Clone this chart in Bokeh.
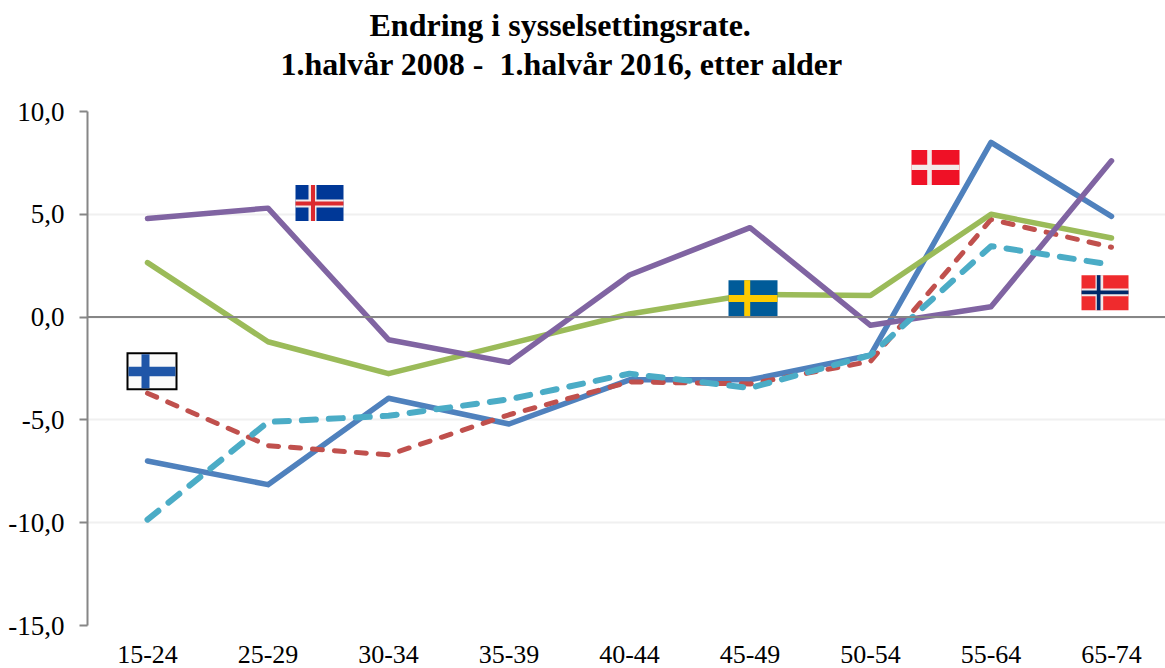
from bokeh.plotting import figure
from bokeh.embed import file_html
from bokeh.resources import INLINE
from bokeh.models import Range1d, FixedTicker, Span, Title

categories = ["15-24", "25-29", "30-34", "35-39", "40-44", "45-49", "50-54", "55-64", "65-74"]
denmark = [-7.0, -8.15, -3.95, -5.2, -3.05, -3.05, -1.85, 8.5, 4.9]
norway = [-3.7, -6.25, -6.7, -4.75, -3.15, -3.25, -2.15, 4.75, 3.4]
sweden = [2.65, -1.2, -2.75, -1.3, 0.15, 1.1, 1.05, 5.0, 3.85]
iceland = [4.8, 5.3, -1.1, -2.2, 2.05, 4.35, -0.4, 0.5, 7.6]
finland = [-9.85, -5.1, -4.8, -4.0, -2.75, -3.45, -1.85, 3.45, 2.55]
y_ticks = [-15, -10, -5, 0, 5, 10]
y_labels = ["-15,0", "-10,0", "-5,0", "0,0", "5,0", "10,0"]
title_lines = ["Endring i sysselsettingsrate.", "1.halvår 2008 -\u00a0 1.halvår 2016, etter alder"]

W, H = 1165, 668
L, T, B = 87, 111.5, 625.0
X0, DX = 147.0, 120.5

xs = list(range(len(categories)))
p = figure(width=W, height=H, output_backend="svg", toolbar_location=None,
           x_range=Range1d((L - X0) / DX, (W - X0) / DX), y_range=Range1d(-15, 10),
           min_border_left=L, min_border_right=0, min_border_top=int(T), min_border_bottom=int(H - B),
           outline_line_color=None, margin=(0, 0, 0, 0))

p.xaxis.ticker = FixedTicker(ticks=xs)
p.xaxis.major_label_overrides = {i: c for i, c in enumerate(categories)}
p.xaxis.axis_line_color = None
p.xaxis.major_tick_line_color = None
p.xaxis.minor_tick_line_color = None
p.xaxis.major_label_text_font = "Liberation Serif"
p.xaxis.major_label_text_font_size = "26px"
p.xaxis.major_label_text_color = "#000000"
p.xaxis.major_label_standoff = 14

p.yaxis.ticker = FixedTicker(ticks=y_ticks)
p.yaxis.major_label_overrides = {t: s for t, s in zip(y_ticks, y_labels)}
p.yaxis.axis_line_color = "#868686"
p.yaxis.axis_line_width = 2
p.yaxis.major_tick_line_color = "#868686"
p.yaxis.major_tick_line_width = 2
p.yaxis.major_tick_in = 0
p.yaxis.major_tick_out = 8
p.yaxis.minor_tick_line_color = None
p.yaxis.major_label_text_font = "Liberation Serif"
p.yaxis.major_label_text_font_size = "27px"
p.yaxis.major_label_text_color = "#000000"
p.yaxis.major_label_standoff = 15

p.xgrid.grid_line_color = None
p.ygrid.ticker = FixedTicker(ticks=y_ticks)
p.ygrid.grid_line_color = "#f0f0f0"
p.ygrid.grid_line_width = 2

p.add_layout(Span(location=0, dimension="width", line_color="#868686", line_width=2))

p.line(xs, denmark, line_color="#4f81bd", line_width=5.5, line_join="round", line_cap="round")
p.line(xs, norway, line_color="#c0504d", line_width=5, line_dash="10 12", line_join="round", line_cap="round")
p.line(xs, sweden, line_color="#9bbb59", line_width=5.5, line_join="round", line_cap="round")
p.line(xs, iceland, line_color="#8064a2", line_width=5.5, line_join="round", line_cap="round")
p.line(xs, finland, line_color="#4bacc6", line_width=6, line_dash="14 13", line_join="round", line_cap="round")


def dx(px):
    return (px - X0) / DX


def dy(py):
    return 10 - (py - T) / (B - T) * 25


def box(x1, y1, x2, y2, color):
    p.quad(left=[dx(x1)], right=[dx(x2)], top=[dy(y1)], bottom=[dy(y2)],
           fill_color=color, line_color=None)


def flag(x1, y1, x2, y2, bg, crosses):
    box(x1, y1, x2, y2, bg)
    for (va, vb, ha, hb, c) in crosses:
        box(x1, ha, x2, hb, c)
        box(va, y1, vb, y2, c)


WHITE = "#f2e9e9"
flag(295, 185, 343, 221, "#003897",
     [(308, 316, 199.5, 207.5, WHITE), (310.5, 314.5, 201.5, 205.5, "#dc2a2e")])
box(126, 352, 177, 390, "#000000")
flag(128, 354, 175, 388, "#fafafa", [(141, 149, 366.5, 376, "#1f56a8")])
flag(728, 280, 777, 316, "#005b99", [(743.7, 749.7, 294.7, 301.7, "#fecb00")])
flag(911, 150, 959, 185, "#ef1126", [(926.7, 931.3, 164.7, 170, WHITE)])
flag(1081, 275, 1128, 310, "#ef2b2d",
     [(1095, 1102.7, 288.3, 296, WHITE), (1096.3, 1100, 290.3, 294, "#002868")])

p.title = None
for line, offset, standoff in zip(reversed(title_lines), (193, 282), (59, -56)):
    p.add_layout(Title(text=line, align="left", offset=offset, standoff=standoff,
                       text_font="Liberation Serif", text_font_style="bold",
                       text_font_size="32px", text_color="#000000"), "above")

open("out.html", "w").write(file_html(p, INLINE))
